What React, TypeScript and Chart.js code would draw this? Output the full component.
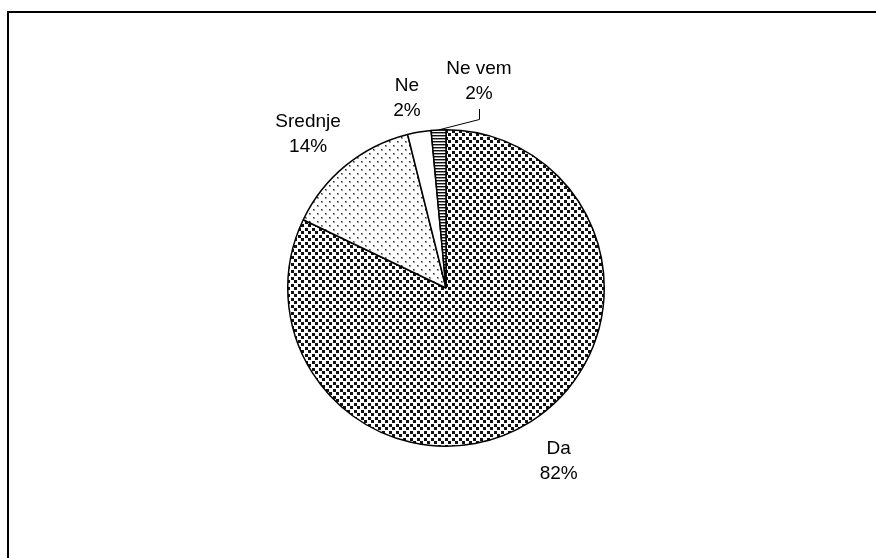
import React, { useEffect, useRef } from "react";
import { Chart, registerables } from "chart.js";
Chart.register(...registerables);

const categories = ["Da", "Srednje", "Ne", "Ne vem"];
const values = [82.1, 14.0, 2.4, 1.5];
const percentLabels = ["82%", "14%", "2%", "2%"];

function makePattern(kind: string): CanvasPattern | string {
  const c = document.createElement("canvas");
  const g = c.getContext("2d")!;
  if (kind === "dense") {
    c.width = 7; c.height = 7;
    g.fillStyle = "#fff"; g.fillRect(0, 0, 7, 7);
    g.fillStyle = "#111";
    g.fillRect(0, 0, 3, 3); g.fillRect(4, 4, 3, 3);
  } else if (kind === "sparse") {
    c.width = 8; c.height = 8;
    g.fillStyle = "#fff"; g.fillRect(0, 0, 8, 8);
    g.fillStyle = "#999";
    g.fillRect(1, 1, 2, 2); g.fillRect(5, 5, 2, 2);
    g.fillStyle = "#333";
    g.fillRect(1, 1, 1, 1); g.fillRect(5, 5, 1, 1);
  } else if (kind === "hstripe") {
    c.width = 4; c.height = 3;
    g.fillStyle = "#fff"; g.fillRect(0, 0, 4, 3);
    g.fillStyle = "#111"; g.fillRect(0, 0, 4, 1);
    g.fillStyle = "#999"; g.fillRect(0, 1, 4, 1);
  } else {
    return "#ffffff";
  }
  return g.createPattern(c, "repeat")!;
}

// manual label nudges (like labels dragged in the original), in px
const LABEL_NUDGE = [
  [-1, 4],
  [-3, 1],
  [-3, 8],
  [43, -7],
];

const labelPlugin = {
  id: "pieLabels",
  afterDatasetsDraw(chart: any) {
    const ctx = chart.ctx as CanvasRenderingContext2D;
    const meta = chart.getDatasetMeta(0);
    ctx.save();
    ctx.font = "19px 'Liberation Sans', Arial, sans-serif";
    ctx.fillStyle = "#000";
    ctx.textAlign = "center";
    ctx.textBaseline = "middle";
    meta.data.forEach((el: any, i: number) => {
      const p = el.getProps(["x", "y", "startAngle", "endAngle", "outerRadius"], true);
      const mid = (p.startAngle + p.endAngle) / 2;
      const lx = p.x + Math.cos(mid) * (p.outerRadius + 55) + LABEL_NUDGE[i][0];
      const ly = p.y + Math.sin(mid) * (p.outerRadius + 42) + LABEL_NUDGE[i][1];
      if (i === 3) {
        const ex = p.x + Math.cos(mid) * p.outerRadius;
        const ey = p.y + Math.sin(mid) * p.outerRadius;
        ctx.strokeStyle = "#000";
        ctx.lineWidth = 1;
        ctx.beginPath();
        ctx.moveTo(Math.round(lx) + 0.5, ly + 28);
        ctx.lineTo(Math.round(lx) + 0.5, ly + 38.5);
        ctx.lineTo(ex, ey);
        ctx.stroke();
      }
      ctx.fillText(categories[i], lx, ly - 12.5);
      ctx.fillText(percentLabels[i], lx, ly + 12.5);
    });
    ctx.restore();
  },
};

export default function App() {
  const ref = useRef<HTMLCanvasElement>(null);
  useEffect(() => {
    const patterns = [makePattern("dense"), makePattern("sparse"), makePattern("white"), makePattern("hstripe")];
    const chart = new Chart(ref.current!, {
      type: "pie",
      data: {
        labels: categories,
        datasets: [
          {
            data: values,
            backgroundColor: patterns as any,
            borderColor: "#000",
            borderWidth: 1.5,
          },
        ],
      },
      options: {
        animation: false,
        responsive: false,
        events: [],
        layout: { padding: { left: 287, right: 271, top: 129, bottom: 111 } },
        plugins: { legend: { display: false }, tooltip: { enabled: false } },
      },
      plugins: [labelPlugin],
    });
    return () => chart.destroy();
  }, []);
  return (
    <div style={{ position: "fixed", left: 0, top: 0, width: 876, height: 558, overflow: "hidden", background: "#fff" }}>
      <div
        style={{
          position: "absolute",
          left: 7,
          top: 11,
          width: 1000,
          height: 1000,
          borderTop: "2px solid #000",
          borderLeft: "2px solid #000",
        }}
      />
      <canvas ref={ref} width={876} height={558} style={{ position: "absolute", left: 0, top: 0 }} />
    </div>
  );
}
